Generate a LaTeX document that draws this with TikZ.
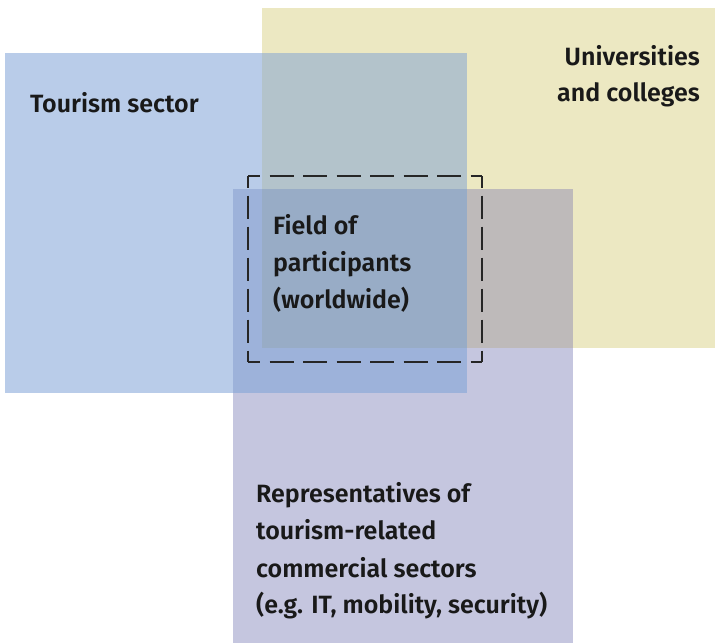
\documentclass[tikz,border=0pt]{standalone}
\usepackage{fontspec}
\setmainfont{Fira Sans}[BoldFont={Fira Sans SemiBold}]
\definecolor{uniY}{HTML}{ECE8C2}
\definecolor{tourB}{HTML}{B9CCE9}
\definecolor{repP}{HTML}{C5C6DF}
\definecolor{tourUni}{HTML}{B3C3CB}
\definecolor{uniRep}{HTML}{BEBABA}
\definecolor{tourRep}{HTML}{9DB2DA}
\definecolor{allThree}{HTML}{98ACC6}
\tikzset{
  label text/.style={inner sep=0pt, font=\fontsize{25}{30}\selectfont\bfseries, text=black!90},
  field edge/.style={draw=black!85, line width=1.5pt, line cap=butt},
}
\begin{document}
\begin{tikzpicture}[x=1pt,y=-1pt]
\useasboundingbox (0,0) rectangle (715,643);
% corners of the three sets (pixel grid, y downwards)
\coordinate (uniTL) at (262,8);    \coordinate (uniBR) at (715,348);
\coordinate (tourTL) at (5,53);    \coordinate (tourBR) at (467,393);
\coordinate (repTL) at (233,189);  \coordinate (repBR) at (573,643);
% single sets
\fill[uniY] (uniTL) rectangle (uniBR);
\fill[tourB] (tourTL) rectangle (tourBR);
\fill[repP] (repTL) rectangle (repBR);
% pairwise overlaps
\fill[tourUni] (uniTL |- tourTL) rectangle (tourBR |- uniBR);
\fill[tourRep] (repTL) rectangle (tourBR);
\fill[uniRep] (uniTL |- repTL) rectangle (repBR |- uniBR);
% overlap of all three
\fill[allThree] (uniTL |- repTL) rectangle (tourBR |- uniBR);
% dashed frame around the field of participants
\coordinate (fTL) at (248,176); \coordinate (fTR) at (482,176);
\coordinate (fBL) at (248,362); \coordinate (fBR) at (482,362);
\draw[field edge, dash pattern=on 24pt off 9.5pt, dash phase=12pt] (fTL) -- (fTR);
\draw[field edge, dash pattern=on 24pt off 9.5pt, dash phase=12pt] (fBL) -- (fBR);
\draw[field edge, dash pattern=on 23pt off 8pt, dash phase=11.5pt] (fTL) -- (fBL);
\draw[field edge, dash pattern=on 23pt off 8pt, dash phase=11.5pt] (fTR) -- (fBR);
% labels
\node[label text, anchor=base west] (tour) at (30,112) {Tourism sector};
\node[label text, anchor=base east] (uni1) at (700,65) {Universities};
\node[label text, anchor=base east] (uni2) at (700,101) {and colleges};
\node[label text, anchor=base west] (field1) at (273,234) {Field of};
\node[label text, anchor=base west] (field2) at (273,271) {participants};
\node[label text, anchor=base west] (field3) at (273,308) {(worldwide)};
\node[label text, anchor=base west] (rep1) at (256,502) {Representatives of};
\node[label text, anchor=base west] (rep2) at (256,539) {tourism-related};
\node[label text, anchor=base west] (rep3) at (256,577) {commercial sectors};
\node[label text, anchor=base west] (rep4) at (256,613) {(e.g. IT, mobility, security)};
\end{tikzpicture}
\end{document}
